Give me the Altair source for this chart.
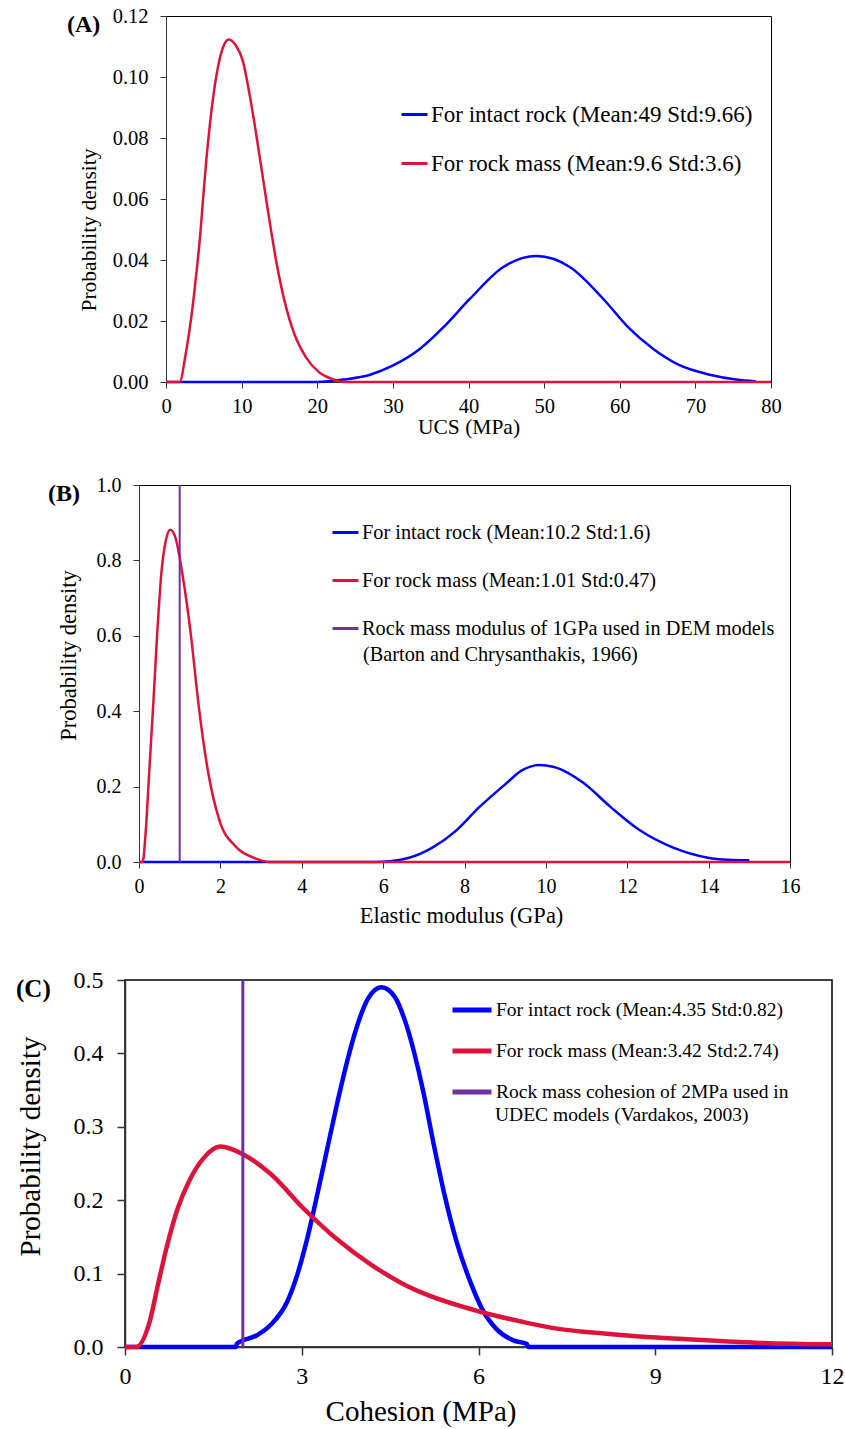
import altair as alt
import pandas as pd

SERIF = "Liberation Serif"
BLUE, RED, PURPLE = "#0000FF", "#DC143C", "#7030A0"

# ---------------- (A) uniaxial compressive strength ----------------
ucs_labels = ["For intact rock (Mean:49 Std:9.66)", "For rock mass (Mean:9.6 Std:3.6)"]
ucs_intact_x = [0, 20.0, 23.5, 27.0, 30.1, 33.6, 36.7, 40.2, 44.6, 49.0, 53.4, 57.8,
                61.1, 64.4, 67.9, 71.9, 75.4, 78.0]
ucs_intact_y = [0, 0, 0.0008, 0.0024, 0.0055, 0.0109, 0.0180, 0.0273, 0.0377, 0.0413,
                0.0377, 0.0273, 0.0180, 0.0109, 0.0055, 0.0024, 0.0008, 0.0002]
ucs_mass_x = [0, 1.8, 2.6, 3.34, 4.0, 4.53, 4.88, 5.32, 5.76, 6.29, 6.86, 7.52, 8.3,
              9.2, 10.17, 11.05, 11.93, 12.81, 13.69, 14.57, 15.67, 16.99, 18.53,
              20.29, 22.05, 23.8, 80]
ucs_mass_y = [0, 0, 0.0091, 0.0211, 0.0353, 0.0484, 0.0593, 0.0725, 0.0834, 0.0943,
              0.1031, 0.1096, 0.1123, 0.1105, 0.1052, 0.0943, 0.0812, 0.0670, 0.0528,
              0.0397, 0.0266, 0.0156, 0.0080, 0.0031, 0.0009, 0, 0]

# ---------------- (B) elastic modulus ----------------
em_labels = ["For intact rock (Mean:10.2 Std:1.6)", "For rock mass (Mean:1.01 Std:0.47)",
             "Rock mass modulus of 1GPa used in DEM models"]
em_note = "(Barton and Chrysanthakis, 1966)"
em_intact_x = [0, 5.8, 6.64, 7.21, 7.78, 8.35, 9.0, 9.41, 9.62, 9.82, 10.2, 10.55, 10.92,
               11.58, 12.31, 13.13, 13.98, 14.47, 15.0]
em_intact_y = [0, 0, 0.0115, 0.038, 0.082, 0.144, 0.206, 0.243, 0.253, 0.257, 0.252, 0.236,
               0.210, 0.147, 0.084, 0.038, 0.0115, 0.006, 0.0044]
em_mass_x = [0, 0.09, 0.156, 0.254, 0.352, 0.443, 0.557, 0.664, 0.77, 0.91, 1.05, 1.28,
             1.46, 1.69, 1.975, 2.385, 2.877, 3.2, 16]
em_mass_y = [0, 0, 0.066, 0.244, 0.421, 0.598, 0.775, 0.855, 0.881, 0.855, 0.775, 0.598,
             0.421, 0.244, 0.111, 0.040, 0.009, 0, 0]
em_ref = 1.0

# ---------------- (C) cohesion ----------------
coh_labels = ["For intact rock (Mean:4.35 Std:0.82)", "For rock mass (Mean:3.42 Std:2.74)",
              "Rock mass cohesion of 2MPa used in"]
coh_note = "UDEC models (Vardakos, 2003)"
coh_intact_x = [0, 1.88, 1.90, 2.24, 2.47, 2.755, 2.93, 3.10, 3.27, 3.44, 3.61, 3.78,
                3.95, 4.12, 4.35, 4.58, 4.75, 5.07, 5.24, 5.41, 5.63, 5.86, 6.06, 6.31,
                6.59, 6.82, 6.85, 12]
coh_intact_y = [0, 0, 0.0046, 0.016, 0.030, 0.062, 0.100, 0.150, 0.210, 0.273, 0.335,
                0.392, 0.440, 0.474, 0.490, 0.477, 0.445, 0.345, 0.276, 0.212, 0.143,
                0.089, 0.052, 0.024, 0.009, 0.004, 0, 0]
coh_mass_x = [0, 0.19, 0.42, 0.56, 0.72, 0.90, 1.10, 1.33, 1.617, 2.015, 2.47, 3.04,
              3.61, 4.18, 4.72, 5.07, 6.03, 6.76, 7.33, 8.17, 9.02, 9.87, 10.7, 12]
coh_mass_y = [0, 0, 0.035, 0.085, 0.140, 0.190, 0.228, 0.257, 0.273, 0.262, 0.236,
              0.188, 0.146, 0.112, 0.086, 0.073, 0.048, 0.034, 0.025, 0.018, 0.0128,
              0.0091, 0.0059, 0.0036]
coh_ref = 2.0

GUTTER = 121  # room kept left of every plot for its axis labels and title


def panel(tag, curves, labels, colors, ref, note, xdom, xticks, xtitle, ydom, yticks,
          yfmt, width, height, left, top, cell_bottom, st):
    legend = alt.Legend(
        orient="none", legendX=st["lx"], legendY=st["ly"], direction="vertical",
        title=None, symbolType="stroke", symbolSize=st["sym"] ** 2,
        symbolStrokeWidth=st["symw"], labelFont=SERIF, labelFontSize=st["lfs"],
        labelColor="black", labelLimit=900, labelOffset=2, rowPadding=st["rowpad"],
        padding=0, offset=0,
    )
    color = alt.Color("series:N", scale=alt.Scale(domain=labels, range=colors), legend=legend)
    x = alt.X("x:Q", scale=alt.Scale(domain=xdom, nice=False, zero=False),
              axis=alt.Axis(values=xticks, title=xtitle, grid=False, tickSize=st["tick"],
                            labelFont=SERIF, labelFontSize=st["tfs"], labelColor="black",
                            labelPadding=st["xlp"], titleFont=SERIF,
                            titleFontSize=st["afs"], titleFontWeight="normal",
                            titleColor="black", titleX=st["xtx"], titleY=st["xty"],
                            titleBaseline="middle", titleAlign="center",
                            domainColor="#333333", tickColor="#333333",
                            domainWidth=st["dw"], tickWidth=st["dw"], labelFlush=False))
    y = alt.Y("y:Q", scale=alt.Scale(domain=ydom, nice=False),
              axis=alt.Axis(values=yticks, format=yfmt, title="Probability density",
                            grid=False, tickSize=st["tick"], labelFont=SERIF,
                            labelFontSize=st["tfs"], labelColor="black",
                            labelPadding=st["ylp"], titleFont=SERIF,
                            titleFontSize=st["afs"], titleFontWeight="normal",
                            titleColor="black", titleX=st["ytx"], titleY=st["yty"],
                            titleBaseline="middle", titleAlign="center",
                            domainColor="#333333", tickColor="#333333",
                            domainWidth=st["dw"], tickWidth=st["dw"], labelFlush=False))
    layers = []
    for (xs, ys, lab) in curves:
        df = pd.DataFrame({"x": xs, "y": ys, "series": lab})
        layers.append(alt.Chart(df).mark_line(strokeWidth=st["lw"], interpolate="monotone")
                      .encode(x=x, y=y, color=color))
    if ref is not None:
        rdf = pd.DataFrame({"x": [ref], "series": [labels[-1]]})
        layers.append(alt.Chart(rdf).mark_rule(strokeWidth=st["rw"]).encode(x=x, color=color))
    if note:
        ndf = pd.DataFrame({"note": [note]})
        layers.append(alt.Chart(ndf).mark_text(align="left", baseline="middle", font=SERIF,
                                                fontSize=st["lfs"], color="black")
                      .encode(x=alt.value(st["nx"]), y=alt.value(st["ny"]), text="note:N"))
    tdf = pd.DataFrame({"tag": [tag]})
    layers.append(alt.Chart(tdf).mark_text(align="left", baseline="middle", font=SERIF,
                                           fontSize=st["gfs"], fontWeight="bold", color="black")
                  .encode(x=alt.value(st["gx"]), y=alt.value(st["gy"]), text="tag:N"))
    # transparent block that fixes the panel's extent (gutter and cell height)
    sdf = pd.DataFrame({"k": [0]})
    layers.append(alt.Chart(sdf).mark_rect(opacity=0).encode(
        x=alt.value(-GUTTER), x2=alt.value(-GUTTER + 1),
        y=alt.value(-top), y2=alt.value(cell_bottom - top)))
    body = alt.layer(*layers).properties(
        width=width, height=height,
        view=alt.ViewBackground(stroke="black", strokeWidth=st["dw"]))
    # empty indent in front of the panel shifts it to its own left edge
    indent = left - GUTTER
    pad = (alt.Chart(sdf).mark_rect(opacity=0)
           .encode(x=alt.value(0), x2=alt.value(indent), y=alt.value(0), y2=alt.value(1))
           .properties(width=indent, height=1,
                       view=alt.ViewBackground(stroke="transparent")))
    return alt.hconcat(pad, body, spacing=0)


A = panel("(A)", [(ucs_intact_x, ucs_intact_y, ucs_labels[0]),
                  (ucs_mass_x, ucs_mass_y, ucs_labels[1])],
          ucs_labels, [BLUE, RED], None, None, [0, 80], list(range(0, 81, 10)), "UCS (MPa)",
          [0, 0.12], [0, 0.02, 0.04, 0.06, 0.08, 0.10, 0.12], ".2f",
          605, 366, 163, 15, 467,
          dict(lx=399, ly=84, sym=26, symw=3, lfs=23, rowpad=22, tick=6, tfs=20.5, xlp=8,
               ylp=12, afs=21.5, xtx=302.5, xty=45, ytx=-76.5, yty=213.5, dw=1, lw=2.5,
               rw=2, gfs=24, gx=-99, gy=9))

B = panel("(B)", [(em_intact_x, em_intact_y, em_labels[0]),
                  (em_mass_x, em_mass_y, em_labels[1])],
          em_labels, [BLUE, RED, PURPLE], em_ref, em_note, [0, 16], list(range(0, 17, 2)),
          "Elastic modulus (GPa)", [0, 1.0], [0, 0.2, 0.4, 0.6, 0.8, 1.0], ".1f",
          651, 377, 136, 15, 468,
          dict(lx=330, ly=33, sym=26, symw=3, lfs=20.3, rowpad=23, tick=6, tfs=20, xlp=8,
               ylp=12, afs=22.5, xtx=322, xty=53, ytx=-71, yty=170, dw=1, lw=2.5,
               rw=2, gfs=24, gx=-91, gy=9, nx=224, ny=170))

C = panel("(C)", [(coh_intact_x, coh_intact_y, coh_labels[0]),
                  (coh_mass_x, coh_mass_y, coh_labels[1])],
          coh_labels, [BLUE, RED, PURPLE], coh_ref, coh_note, [0, 12], [0, 3, 6, 9, 12],
          "Cohesion (MPa)", [0, 0.5], [0, 0.1, 0.2, 0.3, 0.4, 0.5], ".1f",
          707, 367, 122, 40, 489,
          dict(lx=449, ly=8, sym=39, symw=5, lfs=19.5, rowpad=9, tick=8, tfs=24, xlp=9,
               ylp=14, afs=29, xtx=295.5, xty=64, ytx=-94.5, yty=166, dw=1.5, lw=4.5,
               rw=3, gfs=25, gx=-109, gy=9, nx=370, ny=135))

chart = (alt.vconcat(A, B, C, spacing=0)
         .resolve_scale(color="independent")
         .resolve_legend(color="independent")
         .properties(padding=0))

chart.save("out.html", embed_options={"renderer": "svg", "actions": False})
